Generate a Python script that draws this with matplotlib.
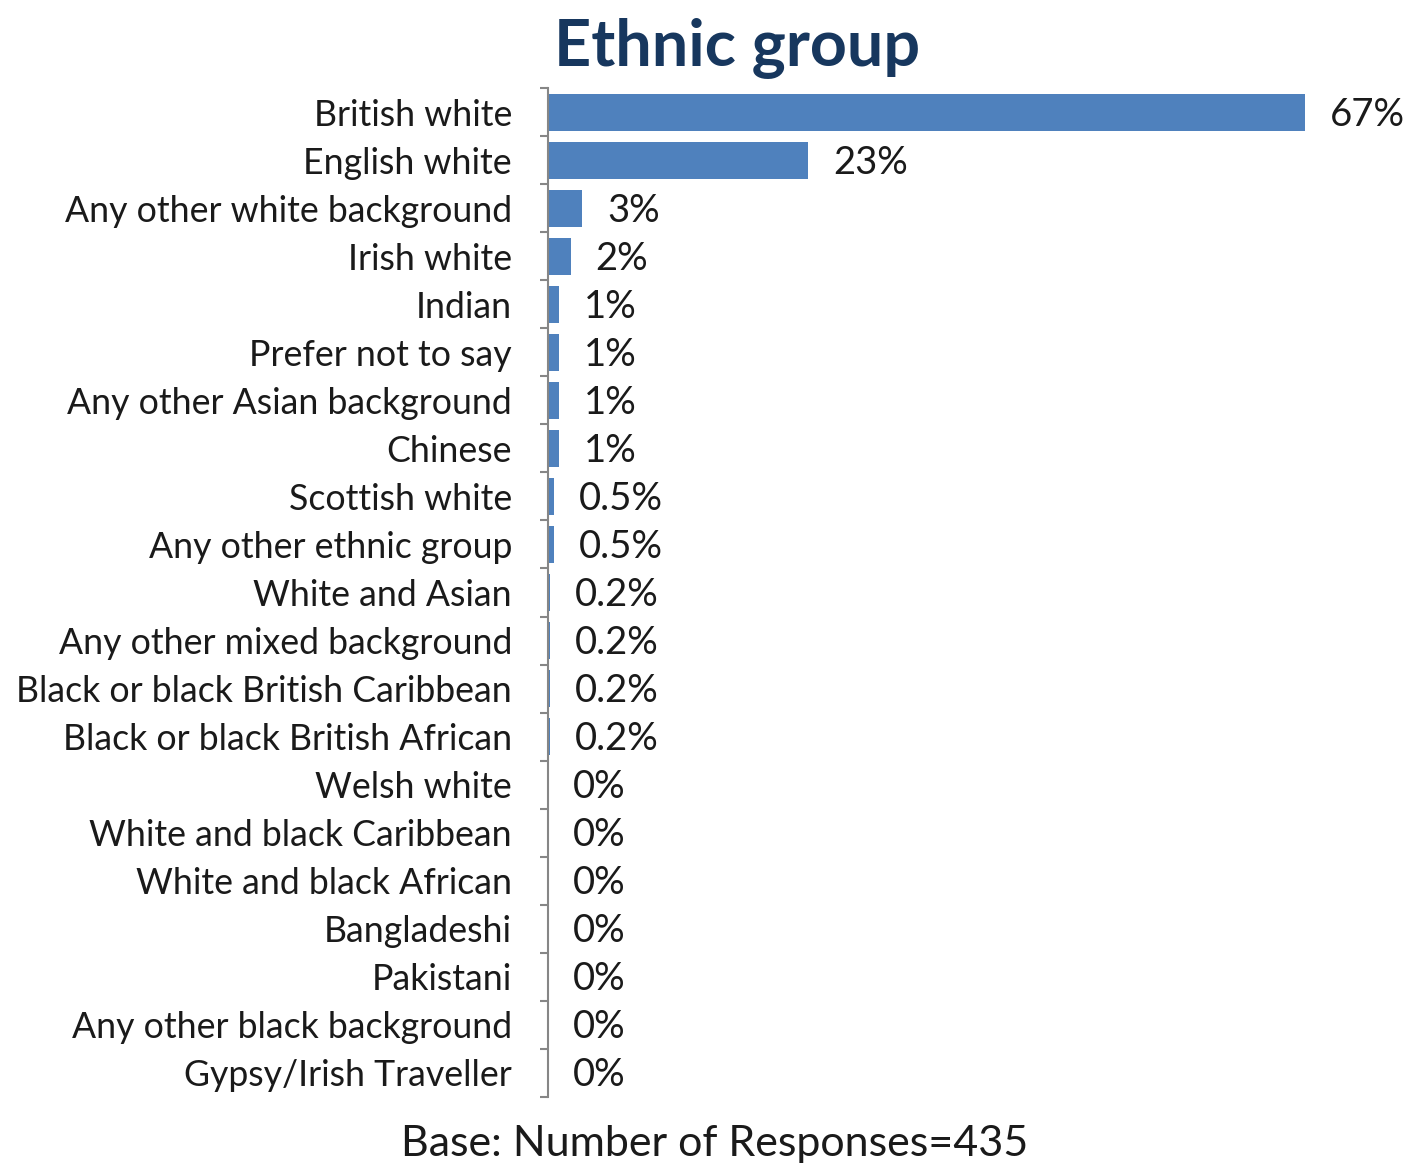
import matplotlib
matplotlib.use("Agg")
import matplotlib.pyplot as plt
import numpy as np

plt.rcParams['font.family'] = ['Lato', 'DejaVu Sans']

# Ethnic group breakdown (percent of responses)
groups = [
    "British white", "English white", "Any other white background", "Irish white",
    "Indian", "Prefer not to say", "Any other Asian background", "Chinese",
    "Scottish white", "Any other ethnic group", "White and Asian",
    "Any other mixed background", "Black or black British Caribbean",
    "Black or black British African", "Welsh white", "White and black Caribbean",
    "White and black African", "Bangladeshi", "Pakistani",
    "Any other black background", "Gypsy/Irish Traveller",
]
percent = [67, 23, 3, 2, 1, 1, 1, 1, 0.5, 0.5, 0.2, 0.2, 0.2, 0.2,
           0, 0, 0, 0, 0, 0, 0]
base_n = 435

bar_color = '#4F81BD'
axis_gray = '#868686'
text_color = '#1a1a1a'

fig = plt.figure(figsize=(14.07, 11.63), dpi=100)
ax = fig.add_axes([0.3895, 0.0568, 0.578, 0.8675])

y = np.arange(len(groups))
ax.barh(y, percent, height=0.77, color=bar_color)
ax.set_ylim(len(groups) - 0.5, -0.5)
ax.set_xlim(0, 72)

# percentage labels just past the bar ends
for yi, v in zip(y, percent):
    ax.annotate(f"{v:g}%", (v, yi), xytext=(18, -1.8), textcoords='offset points',
                va='center', ha='left', fontsize=27.5, color=text_color)

ax.set_yticks(y)
ax.set_yticklabels(groups, fontsize=25.7, color=text_color)
ax.tick_params(axis='y', which='major', length=0, pad=26)
# small tick marks between categories
ax.set_yticks(np.arange(-0.5, len(groups)), minor=True)
ax.tick_params(axis='y', which='minor', length=6, width=1.5, color=axis_gray)
ax.set_xticks([])

for side in ['top', 'right', 'bottom']:
    ax.spines[side].set_visible(False)
ax.spines['left'].set_color(axis_gray)
ax.spines['left'].set_linewidth(1.5)

fig.text(0.524, 0.958, "Ethnic group", ha='center', va='center',
         fontsize=46.5, fontweight='bold', color='#17375E')
fig.text(0.508, 0.016, f"Base: Number of Responses={base_n}", ha='center',
         va='center', fontsize=31, color=text_color)

fig.savefig("out.png", dpi=100)
